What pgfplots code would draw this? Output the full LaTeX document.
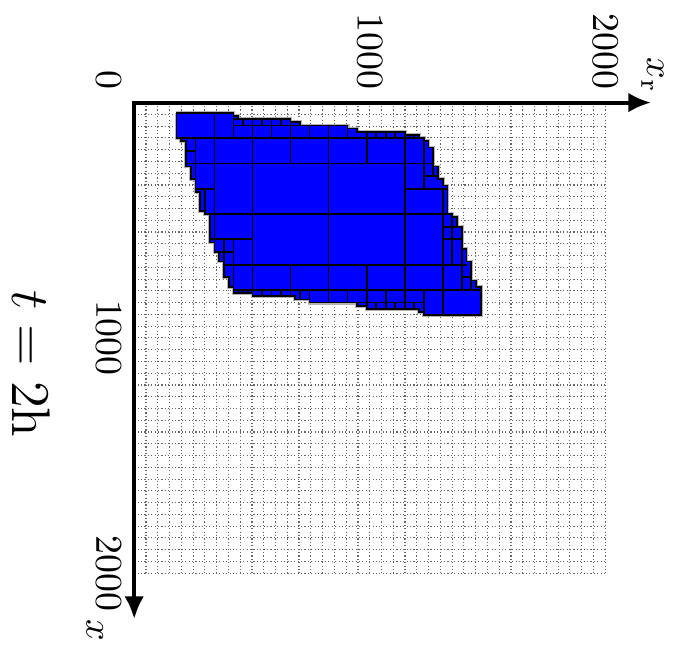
\documentclass[border=0pt]{standalone}
\usepackage{pgfplots}
\pgfplotsset{compat=1.18}
\usetikzlibrary{arrows.meta}
\begin{document}
\begin{tikzpicture}
\begin{axis}[
  scale only axis, width=124.5pt, height=124.4pt,
  xmin=0, xmax=2000, ymin=0, ymax=2000, y dir=reverse,
  axis line style={draw=none},
  xtick={1000,2000}, ytick={1000,2000},
  xticklabels={$1000$,$2000$}, yticklabels={$1000$,$2000$},
  minor xtick={0,50,...,2000}, minor ytick={0,50,...,2000},
  grid=both,
  grid style={black!60, line width=0.3pt, dash pattern=on 0.3pt off 0.6pt},
  major grid style={black!60, line width=0.3pt, dash pattern=on 0.3pt off 0.6pt},
  major tick length=0pt, minor tick length=0pt,
  xticklabel pos=upper,
  xticklabel style={rotate=-90, anchor=east},
  yticklabel style={rotate=-90, anchor=north},
  clip=false,
]
% outer halo
\addplot[draw=black!30, line width=1pt] table {
179.2 43.3
421.5 43.3
421.5 56.7
441.7 56.7
441.7 70.2
663.9 70.2
663.9 83.6
704.3 83.6
704.3 97.1
906.2 97.1
906.2 110.5
946.6 110.5
946.6 124.0
1148.6 124.0
1148.6 137.4
1209.2 137.4
1209.2 150.9
1229.3 150.9
1229.3 164.3
1249.5 164.3
1249.5 191.2
1269.7 191.2
1269.7 271.9
1289.9 271.9
1289.9 325.7
1310.1 325.7
1310.1 352.5
1330.3 352.5
1330.3 473.5
1350.5 473.5
1350.5 487.0
1370.7 487.0
1370.7 527.3
1390.9 527.3
1390.9 621.4
1411.1 621.4
1411.1 675.2
1431.3 675.2
1431.3 755.9
1451.5 755.9
1451.5 782.8
1471.7 782.8
1471.7 903.8
1229.3 903.8
1229.3 890.3
1209.2 890.3
1209.2 876.9
987.0 876.9
987.0 863.4
946.6 863.4
946.6 850.0
744.7 850.0
744.7 836.6
684.1 836.6
684.1 823.1
502.3 823.1
502.3 809.7
421.5 809.7
421.5 782.8
401.3 782.8
401.3 742.4
381.1 742.4
381.1 675.2
360.9 675.2
360.9 634.9
340.8 634.9
340.8 594.5
320.6 594.5
320.6 473.5
300.4 473.5
300.4 460.1
280.2 460.1
280.2 379.4
260.0 379.4
260.0 325.7
239.8 325.7
239.8 271.9
219.6 271.9
219.6 164.3
199.4 164.3
199.4 150.9
179.2 150.9
179.2 43.3
};
% blue region
\addplot[fill=blue, draw=black, line width=0.45pt] table {
179.2 43.3
421.5 43.3
421.5 56.7
441.7 56.7
441.7 70.2
663.9 70.2
663.9 83.6
704.3 83.6
704.3 97.1
906.2 97.1
906.2 110.5
946.6 110.5
946.6 124.0
1148.6 124.0
1148.6 137.4
1209.2 137.4
1209.2 150.9
1229.3 150.9
1229.3 164.3
1249.5 164.3
1249.5 191.2
1269.7 191.2
1269.7 271.9
1289.9 271.9
1289.9 325.7
1310.1 325.7
1310.1 352.5
1330.3 352.5
1330.3 473.5
1350.5 473.5
1350.5 487.0
1370.7 487.0
1370.7 527.3
1390.9 527.3
1390.9 621.4
1411.1 621.4
1411.1 675.2
1431.3 675.2
1431.3 755.9
1451.5 755.9
1451.5 782.8
1471.7 782.8
1471.7 903.8
1229.3 903.8
1229.3 890.3
1209.2 890.3
1209.2 876.9
987.0 876.9
987.0 863.4
946.6 863.4
946.6 850.0
744.7 850.0
744.7 836.6
684.1 836.6
684.1 823.1
502.3 823.1
502.3 809.7
421.5 809.7
421.5 782.8
401.3 782.8
401.3 742.4
381.1 742.4
381.1 675.2
360.9 675.2
360.9 634.9
340.8 634.9
340.8 594.5
320.6 594.5
320.6 473.5
300.4 473.5
300.4 460.1
280.2 460.1
280.2 379.4
260.0 379.4
260.0 325.7
239.8 325.7
239.8 271.9
219.6 271.9
219.6 164.3
199.4 164.3
199.4 150.9
179.2 150.9
179.2 43.3
};
% cell edges
\addplot[black, line width=0.45pt, unbounded coords=jump] table {
179.2 150.9
1229.3 150.9
nan nan
219.6 258.4
1269.7 258.4
nan nan
300.4 473.5
1330.3 473.5
nan nan
381.1 688.7
1411.1 688.7
nan nan
421.5 796.2
1471.7 796.2
nan nan
421.5 97.1
704.3 97.1
nan nan
421.5 70.2
441.7 70.2
nan nan
260.0 366.0
340.8 366.0
nan nan
1148.6 366.0
1330.3 366.0
nan nan
219.6 204.6
260.0 204.6
nan nan
320.6 581.1
502.3 581.1
nan nan
1310.1 581.1
1390.9 581.1
nan nan
340.8 634.9
421.5 634.9
nan nan
946.6 850.0
1229.3 850.0
nan nan
1310.1 527.3
1370.7 527.3
nan nan
1390.9 742.4
1431.3 742.4
nan nan
1229.3 312.2
1289.9 312.2
nan nan
340.8 43.3
340.8 594.5
nan nan
421.5 43.3
421.5 150.9
nan nan
421.5 581.1
421.5 796.2
nan nan
502.3 70.2
502.3 823.1
nan nan
663.9 70.2
663.9 258.4
nan nan
663.9 688.7
663.9 823.1
nan nan
825.4 97.1
825.4 850.0
nan nan
987.0 124.0
987.0 258.4
nan nan
987.0 688.7
987.0 876.9
nan nan
1148.6 124.0
1148.6 876.9
nan nan
1229.3 150.9
1229.3 366.0
nan nan
1229.3 796.2
1229.3 903.8
nan nan
1310.1 366.0
1310.1 903.8
nan nan
260.0 150.9
260.0 366.0
nan nan
300.4 366.0
300.4 473.5
nan nan
381.1 581.1
381.1 688.7
nan nan
583.1 70.2
583.1 150.9
nan nan
744.7 97.1
744.7 150.9
nan nan
461.9 70.2
461.9 97.1
nan nan
542.7 70.2
542.7 97.1
nan nan
623.5 70.2
623.5 97.1
nan nan
906.2 97.1
906.2 150.9
nan nan
1027.4 124.0
1027.4 150.9
nan nan
1067.8 124.0
1067.8 150.9
nan nan
1108.2 124.0
1108.2 150.9
nan nan
1168.8 137.4
1168.8 150.9
nan nan
1189.0 137.4
1189.0 150.9
nan nan
1390.9 621.4
1390.9 796.2
nan nan
1350.5 487.0
1350.5 688.7
nan nan
1431.3 755.9
1431.3 796.2
nan nan
906.2 796.2
906.2 850.0
nan nan
1067.8 796.2
1067.8 876.9
nan nan
1027.4 850.0
1027.4 876.9
nan nan
1108.2 850.0
1108.2 876.9
nan nan
1189.0 850.0
1189.0 876.9
nan nan
542.7 796.2
542.7 823.1
nan nan
583.1 796.2
583.1 823.1
nan nan
623.5 796.2
623.5 823.1
nan nan
441.7 796.2
441.7 809.7
nan nan
461.9 796.2
461.9 809.7
nan nan
482.1 796.2
482.1 809.7
nan nan
744.7 796.2
744.7 850.0
nan nan
1269.7 258.4
1269.7 312.2
nan nan
704.3 796.2
704.3 836.6
};
% axes with arrows
\draw[line width=1.1pt, line join=miter, {Latex[length=6pt,width=5.2pt]}-{Latex[length=6pt,width=5.2pt]}]
  (axis cs:2195,0) -- (axis cs:0,0) -- (axis cs:0,2195);
\node[rotate=-90] at (axis cs:2200,-116) {$x_{\mathrm{r}}$};
\node[rotate=-90] at (axis cs:-167,2241) {$x$};
\node[rotate=-90, anchor=north east] at (axis cs:0,0) {$0$};
\node[rotate=-90, font=\Large] at (axis cs:-436,1110) {$t = 2\mathrm{h}$};
\path (axis cs:-536,-436) rectangle (axis cs:2309,2312);
\end{axis}
\end{tikzpicture}
\end{document}
